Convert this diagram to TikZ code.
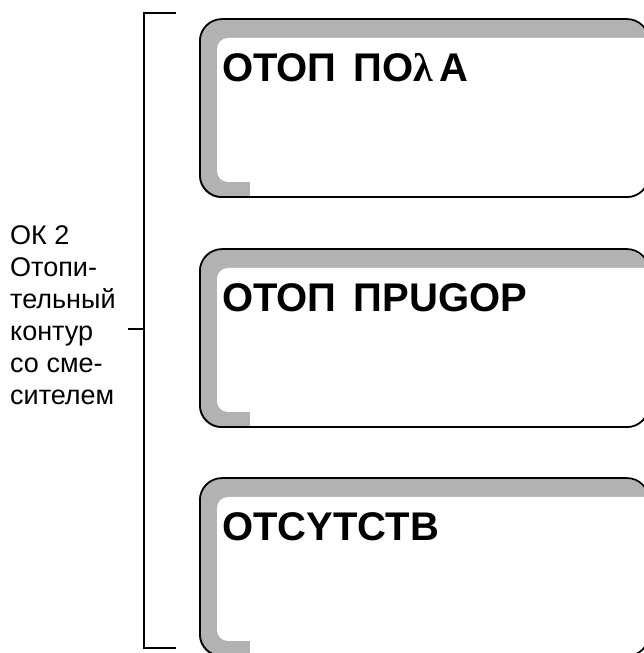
\documentclass[tikz,border=0pt]{standalone}
\usepackage{fontspec}
\setmainfont{Liberation Sans}
\newfontfamily\lamfont{Liberation Serif}
\usepackage{tikz}
\usetikzlibrary{positioning, calc}
\definecolor{bevel}{gray}{0.70}
\tikzset{
  panel/.style={
    draw=black, line width=1.8pt, rounded corners=22pt,
    minimum width=449pt, minimum height=178pt, inner sep=0pt,
    anchor=south west
  },
  paneltitle/.style={
    anchor=base west, inner sep=0pt,
    font=\fontsize{40}{46}\selectfont\bfseries
  },
  sidelabel/.style={
    anchor=north west, inner sep=0pt, align=left,
    font=\fontsize{27}{32}\selectfont
  },
  bracket/.style={draw=black, line width=1.5pt}
}

\begin{document}
\begin{tikzpicture}[x=1pt, y=1pt]
\useasboundingbox (0,0) rectangle (643,653);

%% ── Side label and bracket ───────────────────────────────────
\node[sidelabel] (oklabel) at (10,428)
  {ОК 2\\Отопи-\\тельный\\контур\\со сме-\\сителем};
\coordinate (brtop) at (176,640);
\coordinate (brbot) at (176,5);
\coordinate (tick) at (128,324);
\draw[bracket] (brtop) -- ++(-32,0) |- (brbot);
\draw[bracket] (tick) -- ++(16,0);

%% ── Panel 1 ──────────────────────────────────────────────────
\begin{scope}[shift={(199,455)}]
  \clip[rounded corners=22pt] (0,0) rectangle (449,178);
  \fill[bevel] (0,0) rectangle (449,178);
  \fill[white] (18,27) -- (18,149) arc[start angle=180, end angle=90, radius=11]
    -- (470,160) -- (470,-10) -- (51,-10) -- (51,16) -- (29,16)
    arc[start angle=270, end angle=180, radius=11] -- cycle;
\end{scope}
\node[panel] (panelA) at (199,455) {};
\node[paneltitle] (titleA) at (222,571)
  {ОТОП\hspace{6pt} ПО{\lamfont λ}\,А};

%% ── Panel 2 ──────────────────────────────────────────────────
\begin{scope}[shift={(199,225)}]
  \clip[rounded corners=22pt] (0,0) rectangle (449,178);
  \fill[bevel] (0,0) rectangle (449,178);
  \fill[white] (18,27) -- (18,149) arc[start angle=180, end angle=90, radius=11]
    -- (470,160) -- (470,-10) -- (51,-10) -- (51,16) -- (29,16)
    arc[start angle=270, end angle=180, radius=11] -- cycle;
\end{scope}
\node[panel] (panelB) at (199,225) {};
\node[paneltitle] (titleB) at (222,341) {ОТОП\hspace{6pt} ПРUGОР};

%% ── Panel 3 ──────────────────────────────────────────────────
\begin{scope}[shift={(199,-4)}]
  \clip[rounded corners=22pt] (0,0) rectangle (449,178);
  \fill[bevel] (0,0) rectangle (449,178);
  \fill[white] (18,27) -- (18,149) arc[start angle=180, end angle=90, radius=11]
    -- (470,160) -- (470,-10) -- (51,-10) -- (51,16) -- (29,16)
    arc[start angle=270, end angle=180, radius=11] -- cycle;
\end{scope}
\node[panel] (panelC) at (199,-4) {};
\node[paneltitle] (titleC) at (222,112) {ОТСYТСТВ};

\end{tikzpicture}
\end{document}
